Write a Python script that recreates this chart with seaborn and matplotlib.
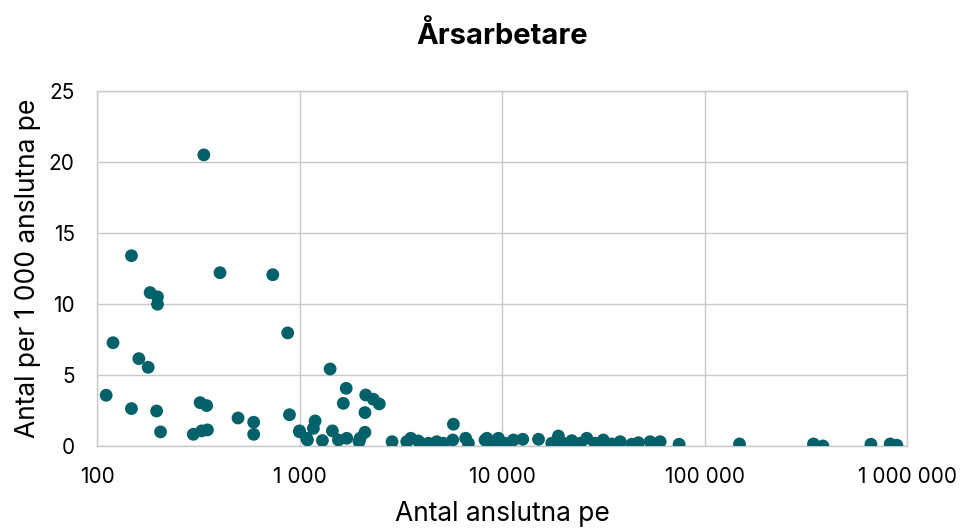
import matplotlib
matplotlib.use("Agg")
import matplotlib.pyplot as plt
import pandas as pd
import seaborn as sns
from matplotlib.ticker import FixedLocator, FuncFormatter, NullLocator

# Antal anslutna pe (x) och antal årsarbetare per 1 000 anslutna pe (y)
anslutna_pe = [
    111, 120, 148, 148, 161, 179, 183, 199, 199, 197, 206,
    299, 323, 337, 348, 329, 351, 405, 497, 594, 594, 738, 874, 892,
    1000, 1000, 1085, 1094, 1171, 1194, 1297, 1416, 1453, 1556, 1645, 1700, 1711,
    1967, 1990, 2104, 2104, 2122, 2314, 2475, 2863, 3384, 3543, 3862, 4327, 4756,
    5129, 5710, 5750, 6610, 6820, 8240, 8420, 8550, 8730, 9060, 9590, 10360,
    11380, 12650, 15130, 17590, 18970, 20100, 22100, 24300, 26200, 28800, 31600,
    34800, 38300, 43700, 47100, 53800, 60300, 74800,
    148600, 344600, 383500, 662000, 824000, 889000,
]
per_1000_pe = [
    3.57, 7.27, 13.4, 2.63, 6.15, 5.54, 10.8, 10.5, 9.98, 2.46, 0.99,
    0.82, 3.05, 20.5, 2.84, 1.06, 1.13, 12.2, 1.97, 1.67, 0.82, 12.06, 7.96, 2.2,
    1.0, 1.06, 0.54, 0.42, 1.24, 1.76, 0.38, 5.42, 1.06, 0.42, 3.0, 4.06, 0.54,
    0.3, 0.54, 0.96, 2.35, 3.59, 3.29, 2.96, 0.3, 0.3, 0.54, 0.35, 0.19, 0.3,
    0.19, 0.42, 1.53, 0.54, 0.19, 0.42, 0.54, 0.19, 0.19, 0.07, 0.54, 0.19,
    0.42, 0.47, 0.47, 0.19, 0.7, 0.19, 0.37, 0.19, 0.54, 0.19, 0.42,
    0.14, 0.3, 0.12, 0.23, 0.3, 0.3, 0.12,
    0.14, 0.14, 0.0, 0.12, 0.14, 0.05,
]

x_ticks = [100, 1000, 10000, 100000, 1000000]
y_ticks = [0, 5, 10, 15, 20, 25]

df = pd.DataFrame({"pe": anslutna_pe, "antal": per_1000_pe})

sns.set_style("white")
plt.rcParams["font.family"] = ["Inter", "DejaVu Sans"]

fig = plt.figure(figsize=(9.6, 5.29), dpi=100)
ax = fig.add_axes([0.101, 0.157, 0.844, 0.671])

sns.scatterplot(data=df, x="pe", y="antal", ax=ax, color="#00616A",
                s=85, edgecolor="none", zorder=3)

ax.set_xscale("log")
ax.set_xlim(100, 1000000)
ax.set_ylim(0, 25)
ax.xaxis.set_major_locator(FixedLocator(x_ticks))
ax.xaxis.set_minor_locator(NullLocator())
ax.yaxis.set_major_locator(FixedLocator(y_ticks))
ax.xaxis.set_major_formatter(FuncFormatter(lambda v, p: f"{int(v):,}".replace(",", " ")))

ax.grid(True, color="#c8c8c8", linewidth=1)
for s in ax.spines.values():
    s.set_color("#c8c8c8")
    s.set_linewidth(1)
ax.tick_params(length=0, labelsize=15, colors="black")
ax.tick_params(axis="x", pad=15)
ax.tick_params(axis="y", pad=16)

ax.set_title("Årsarbetare", fontsize=21, fontweight="bold", pad=34, color="black")
ax.set_xlabel("Antal anslutna pe", fontsize=19, labelpad=10, color="black")
ax.set_ylabel("Antal per 1 000 anslutna pe", fontsize=19, labelpad=6, color="black")

fig.savefig("out.png", dpi=100)
